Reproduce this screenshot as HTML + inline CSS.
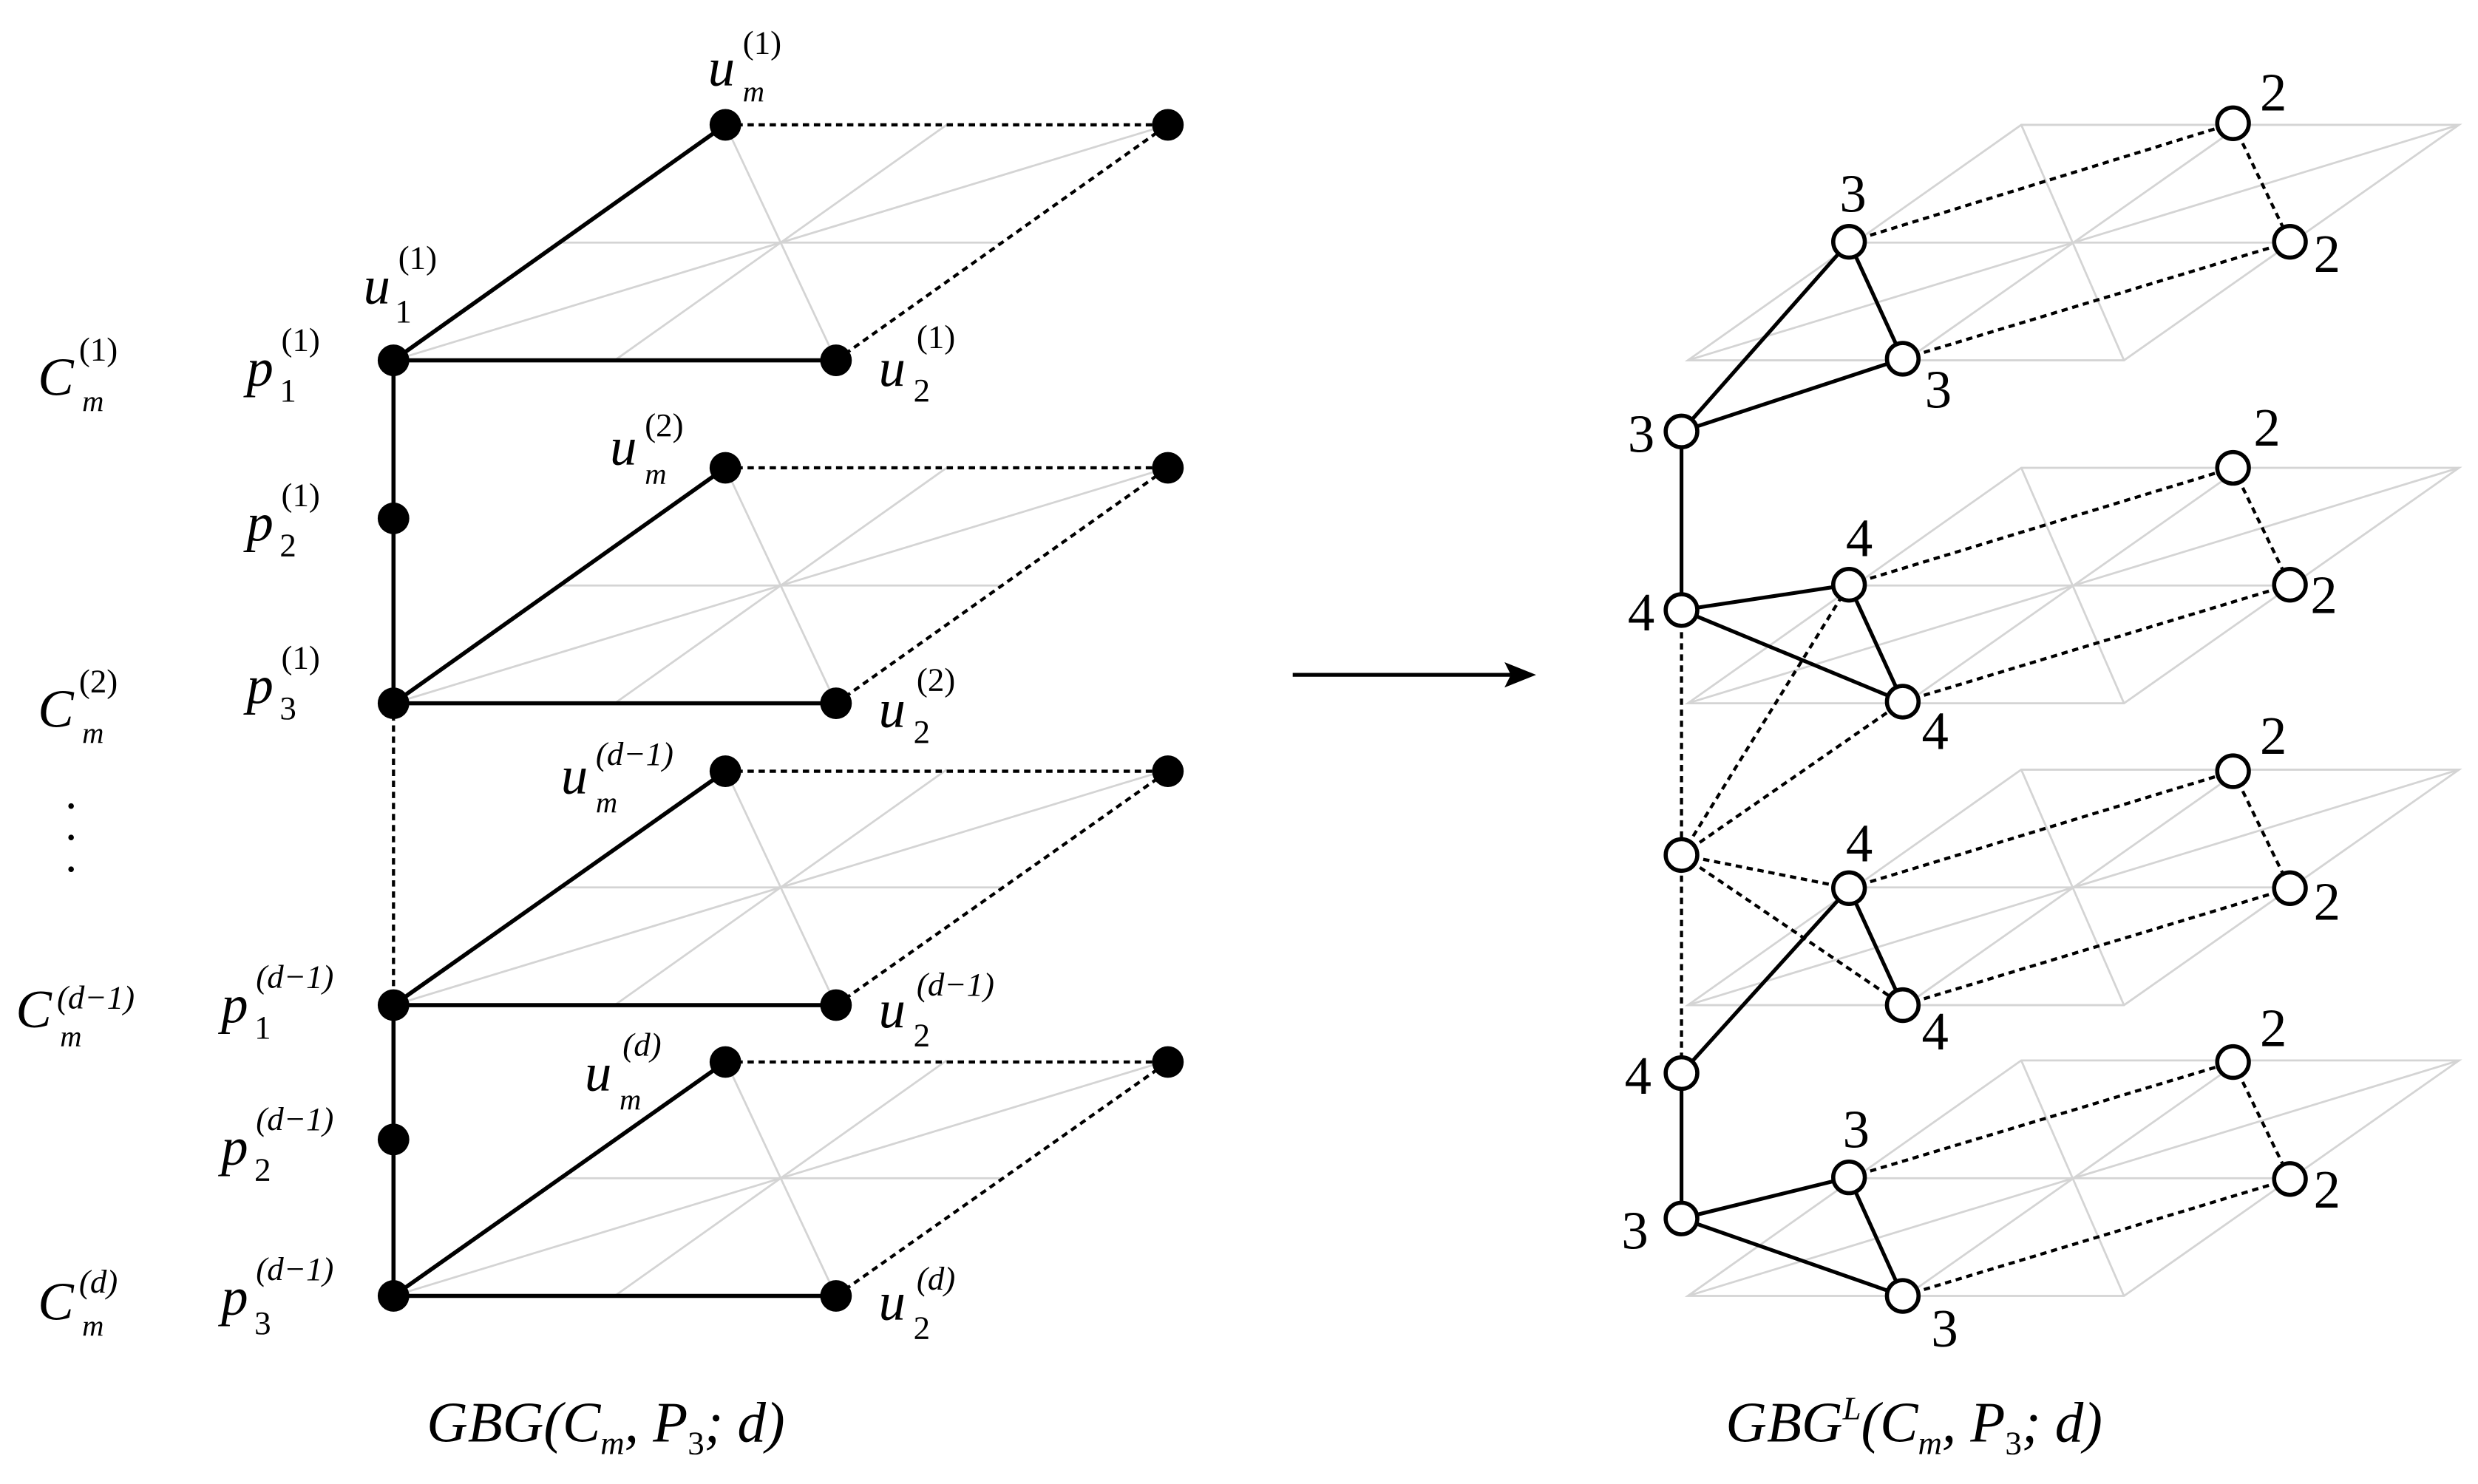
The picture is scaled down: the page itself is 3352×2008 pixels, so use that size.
<!DOCTYPE html>
<html><head><meta charset="utf-8">
<style>
html,body{margin:0;padding:0;background:#fff;}
svg{display:block;}
svg text{font-family:"Liberation Serif","DejaVu Serif",serif;fill:#000;}
.i{font-style:italic;}
</style></head>
<body>
<svg width="3352" height="2008" viewBox="0 0 1568 939" preserveAspectRatio="none" xmlns="http://www.w3.org/2000/svg" font-family="Liberation Serif, DejaVu Serif, serif">
<defs>
<g id="grid">
 <g stroke="#d4d4d4" stroke-width="1.3" fill="none">
  <line x1="0" y1="0" x2="490" y2="-149"/>
  <line x1="210" y1="-149" x2="280" y2="0"/>
  <line x1="105" y1="-74.5" x2="385" y2="-74.5"/>
  <line x1="140" y1="0" x2="350" y2="-149"/>
 </g>
</g>
<g id="rplane">
 <g stroke="#d4d4d4" stroke-width="1.3" fill="none">
  <polygon points="0,0 276,0 488,-149 211,-149"/>
  <line x1="0" y1="0" x2="488" y2="-149"/>
  <line x1="211" y1="-149" x2="276" y2="0"/>
  <line x1="105" y1="-74.5" x2="382" y2="-74.5"/>
  <line x1="138" y1="0" x2="350" y2="-149"/>
 </g>
</g>
</defs>

<use href="#grid" x="249" y="228"/>
<use href="#grid" x="249" y="445"/>
<use href="#grid" x="249" y="636"/>
<use href="#grid" x="249" y="820"/>

<g stroke="#000" fill="none">
 <g stroke-width="2.6">
  <line x1="249" y1="228" x2="249" y2="445"/>
  <line x1="249" y1="636" x2="249" y2="820"/>
  <line x1="249" y1="228" x2="529" y2="228"/><line x1="249" y1="228" x2="459" y2="79"/>
  <line x1="249" y1="445" x2="529" y2="445"/><line x1="249" y1="445" x2="459" y2="296"/>
  <line x1="249" y1="636" x2="529" y2="636"/><line x1="249" y1="636" x2="459" y2="488"/>
  <line x1="249" y1="820" x2="529" y2="820"/><line x1="249" y1="820" x2="459" y2="672"/>
 </g>
 <g stroke-width="2" stroke-dasharray="4,3">
  <line x1="249" y1="445" x2="249" y2="636"/>
  <line x1="459" y1="79" x2="739" y2="79"/><line x1="529" y1="228" x2="739" y2="79"/>
  <line x1="459" y1="296" x2="739" y2="296"/><line x1="529" y1="445" x2="739" y2="296"/>
  <line x1="459" y1="488" x2="739" y2="488"/><line x1="529" y1="636" x2="739" y2="488"/>
  <line x1="459" y1="672" x2="739" y2="672"/><line x1="529" y1="820" x2="739" y2="672"/>
 </g>
</g>
<g fill="#000">
 <circle cx="249" cy="228" r="10"/><circle cx="529" cy="228" r="10"/><circle cx="459" cy="79" r="10"/><circle cx="739" cy="79" r="10"/>
 <circle cx="249" cy="328" r="10"/>
 <circle cx="249" cy="445" r="10"/><circle cx="529" cy="445" r="10"/><circle cx="459" cy="296" r="10"/><circle cx="739" cy="296" r="10"/>
 <circle cx="249" cy="636" r="10"/><circle cx="529" cy="636" r="10"/><circle cx="459" cy="488" r="10"/><circle cx="739" cy="488" r="10"/>
 <circle cx="249" cy="721" r="10"/>
 <circle cx="249" cy="820" r="10"/><circle cx="529" cy="820" r="10"/><circle cx="459" cy="672" r="10"/><circle cx="739" cy="672" r="10"/>
</g>

<g font-size="34">
 <text x="24" y="250" class="i">C</text><text x="52" y="260" font-size="19" class="i">m</text><text x="50" y="228" font-size="21">(1)</text>
 <text x="24" y="460" class="i">C</text><text x="52" y="470" font-size="19" class="i">m</text><text x="50" y="438" font-size="21">(2)</text>
 <text x="10" y="650" class="i">C</text><text x="38" y="662" font-size="19" class="i">m</text><text x="36" y="638" font-size="21" class="i">(d−1)</text>
 <text x="24" y="835" class="i">C</text><text x="52" y="845" font-size="19" class="i">m</text><text x="50" y="818" font-size="21" class="i">(d)</text>
 <text x="40" y="520" font-size="30">·</text><text x="40" y="540" font-size="30">·</text><text x="40" y="560" font-size="30">·</text>

 <text x="156" y="244" class="i">p</text><text x="177" y="254" font-size="21">1</text><text x="178" y="222" font-size="21">(1)</text>
 <text x="156" y="342" class="i">p</text><text x="177" y="352" font-size="21">2</text><text x="178" y="320" font-size="21">(1)</text>
 <text x="156" y="445" class="i">p</text><text x="177" y="455" font-size="21">3</text><text x="178" y="423" font-size="21">(1)</text>
 <text x="140" y="647" class="i">p</text><text x="161" y="657" font-size="21">1</text><text x="162" y="625" font-size="21" class="i">(d−1)</text>
 <text x="140" y="737" class="i">p</text><text x="161" y="747" font-size="21">2</text><text x="162" y="715" font-size="21" class="i">(d−1)</text>
 <text x="140" y="832" class="i">p</text><text x="161" y="844" font-size="21">3</text><text x="162" y="810" font-size="21" class="i">(d−1)</text>

 <text x="230" y="192" class="i">u</text><text x="250" y="204" font-size="21">1</text><text x="252" y="170" font-size="21">(1)</text>
 <text x="448" y="54" class="i">u</text><text x="470" y="64" font-size="19" class="i">m</text><text x="470" y="34" font-size="21">(1)</text>
 <text x="386" y="294" class="i">u</text><text x="408" y="306" font-size="19" class="i">m</text><text x="408" y="276" font-size="21">(2)</text>
 <text x="355" y="502" class="i">u</text><text x="377" y="514" font-size="19" class="i">m</text><text x="377" y="484" font-size="21" class="i">(d−1)</text>
 <text x="370" y="690" class="i">u</text><text x="392" y="702" font-size="19" class="i">m</text><text x="394" y="668" font-size="21" class="i">(d)</text>

 <text x="556" y="244" class="i">u</text><text x="578" y="254" font-size="21">2</text><text x="580" y="220" font-size="21">(1)</text>
 <text x="556" y="460" class="i">u</text><text x="578" y="470" font-size="21">2</text><text x="580" y="437" font-size="21">(2)</text>
 <text x="556" y="650" class="i">u</text><text x="578" y="662" font-size="21">2</text><text x="580" y="630" font-size="21" class="i">(d−1)</text>
 <text x="556" y="835" class="i">u</text><text x="578" y="847" font-size="21">2</text><text x="580" y="816" font-size="21" class="i">(d)</text>

 <text x="270" y="912" font-size="36" class="i">GBG(C<tspan font-size="21" dy="8">m</tspan><tspan dy="-8">, P</tspan><tspan font-size="21" dy="8" font-style="normal">3</tspan><tspan dy="-8">; d)</tspan></text>
 <text x="1092" y="912" font-size="36" class="i">GBG<tspan font-size="21" dy="-14">L</tspan><tspan dy="14">(C</tspan><tspan font-size="21" dy="8">m</tspan><tspan dy="-8">, P</tspan><tspan font-size="21" dy="8" font-style="normal">3</tspan><tspan dy="-8">; d)</tspan></text>
</g>

<line x1="818" y1="427" x2="956" y2="427" stroke="#000" stroke-width="2.5"/>
<polygon points="972,427 952,419 956,427 952,435" fill="#000"/>

<use href="#rplane" x="1068" y="228"/>
<use href="#rplane" x="1068" y="445"/>
<use href="#rplane" x="1068" y="636"/>
<use href="#rplane" x="1068" y="820"/>

<g stroke="#000" fill="none">
 <g stroke-width="2.4">
  <line x1="1064" y1="273" x2="1170" y2="153"/><line x1="1064" y1="273" x2="1204" y2="227"/><line x1="1170" y1="153" x2="1204" y2="227"/>
  <line x1="1064" y1="273" x2="1064" y2="386"/>
  <line x1="1064" y1="386" x2="1170" y2="370"/><line x1="1064" y1="386" x2="1204" y2="444"/><line x1="1170" y1="370" x2="1204" y2="444"/>
  <line x1="1064" y1="679" x2="1170" y2="562"/><line x1="1170" y1="562" x2="1204" y2="636"/>
  <line x1="1064" y1="679" x2="1064" y2="771"/>
  <line x1="1064" y1="771" x2="1170" y2="745"/><line x1="1064" y1="771" x2="1204" y2="820"/><line x1="1170" y1="745" x2="1204" y2="820"/>
 </g>
 <g stroke-width="2" stroke-dasharray="4,3">
  <line x1="1170" y1="153" x2="1413" y2="78"/><line x1="1204" y1="227" x2="1449" y2="153"/><line x1="1413" y1="78" x2="1449" y2="153"/>
  <line x1="1170" y1="370" x2="1413" y2="296"/><line x1="1204" y1="444" x2="1449" y2="370"/><line x1="1413" y1="296" x2="1449" y2="370"/>
  <line x1="1170" y1="562" x2="1413" y2="488"/><line x1="1204" y1="636" x2="1449" y2="562"/><line x1="1413" y1="488" x2="1449" y2="562"/>
  <line x1="1170" y1="745" x2="1413" y2="672"/><line x1="1204" y1="820" x2="1449" y2="746"/><line x1="1413" y1="672" x2="1449" y2="746"/>
  <line x1="1064" y1="386" x2="1064" y2="679"/>
  <line x1="1064" y1="541" x2="1170" y2="370"/><line x1="1064" y1="541" x2="1204" y2="444"/>
  <line x1="1064" y1="541" x2="1170" y2="562"/><line x1="1064" y1="541" x2="1204" y2="636"/>
 </g>
</g>
<g fill="#fff" stroke="#000" stroke-width="2.6">
 <circle cx="1064" cy="273" r="10"/><circle cx="1170" cy="153" r="10"/><circle cx="1204" cy="227" r="10"/><circle cx="1413" cy="78" r="10"/><circle cx="1449" cy="153" r="10"/>
 <circle cx="1064" cy="386" r="10"/><circle cx="1170" cy="370" r="10"/><circle cx="1204" cy="444" r="10"/><circle cx="1413" cy="296" r="10"/><circle cx="1449" cy="370" r="10"/>
 <circle cx="1064" cy="541" r="10"/>
 <circle cx="1170" cy="562" r="10"/><circle cx="1204" cy="636" r="10"/><circle cx="1413" cy="488" r="10"/><circle cx="1449" cy="562" r="10"/>
 <circle cx="1064" cy="679" r="10"/>
 <circle cx="1064" cy="771" r="10"/><circle cx="1170" cy="745" r="10"/><circle cx="1204" cy="820" r="10"/><circle cx="1413" cy="672" r="10"/><circle cx="1449" cy="746" r="10"/>
</g>
<g font-size="34">
 <text x="1030" y="286">3</text><text x="1164" y="134">3</text><text x="1218" y="258">3</text><text x="1430" y="70">2</text><text x="1464" y="172">2</text>
 <text x="1030" y="399">4</text><text x="1168" y="352">4</text><text x="1216" y="474">4</text><text x="1426" y="282">2</text><text x="1462" y="388">2</text>
 <text x="1168" y="545">4</text><text x="1216" y="664">4</text><text x="1430" y="477">2</text><text x="1464" y="582">2</text>
 <text x="1028" y="692">4</text>
 <text x="1026" y="790">3</text><text x="1166" y="726">3</text><text x="1222" y="852">3</text><text x="1430" y="662">2</text><text x="1464" y="764">2</text>
</g>
</svg>
</body></html>
